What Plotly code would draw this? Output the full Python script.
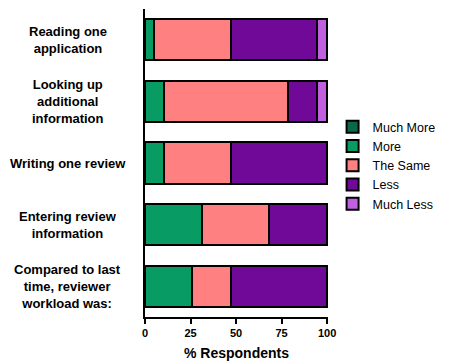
import plotly.graph_objects as go

categories = [
    "Reading one<br>application",
    "Looking up<br>additional<br>information",
    "Writing one review",
    "Entering review<br>information",
    "Compared to last<br>time, reviewer<br>workload was:",
]
series_names = ["Much More", "More", "The Same", "Less", "Much Less"]
much_more = [0, 0, 0, 0, 0]
more = [5, 10.5, 10.5, 31.5, 26]
the_same = [42, 68, 37, 36.5, 21]
less = [47.5, 16, 52.5, 32, 53]
much_less = [5.5, 5.5, 0, 0, 0]
x_ticks = [0, 25, 50, 75, 100]

series_values = [much_more, more, the_same, less, much_less]
colors = ["#0A6A48", "#089C64", "#FF8080", "#700898", "#C060E0"]

FONT = "Liberation Sans, Arial, sans-serif"

fig = go.Figure()
for name, vals, col in zip(series_names, series_values, colors):
    fig.add_trace(go.Bar(
        y=list(range(len(categories))), x=vals, name=name, orientation="h",
        marker=dict(color=col, line=dict(color="black", width=2)),
        width=0.67,
    ))

for i, cat in enumerate(categories):
    fig.add_annotation(
        x=-0.421, xref="paper", y=i, yref="y", text="<b>%s</b>" % cat,
        showarrow=False, xanchor="center", yanchor="middle", align="center",
        font=dict(family=FONT, size=13, color="black"),
    )

fig.update_layout(
    barmode="stack",
    width=447, height=356,
    margin=dict(l=137, r=127, t=1, b=47),
    plot_bgcolor="white", paper_bgcolor="white",
    font=dict(family=FONT, color="black"),
    legend=dict(
        x=1.025, y=0.665, xanchor="left", yanchor="top", traceorder="normal",
        font=dict(family=FONT, size=12.5, color="black"),
        itemwidth=30,
    ),
    xaxis=dict(
        range=[0, 100.5], tickvals=x_ticks, ticktext=["<b>%d</b>" % t for t in x_ticks],
        showline=True, linecolor="black", linewidth=2,
        ticks="outside", ticklen=5, tickwidth=2, tickcolor="black",
        showgrid=False, zeroline=False,
        tickfont=dict(family=FONT, size=11, color="black"),
        title=dict(text="<b>% Respondents</b>", font=dict(family=FONT, size=14, color="black"), standoff=10),
    ),
    yaxis=dict(
        range=[4.5, -0.5], showticklabels=False, showline=True, linecolor="black",
        linewidth=2, showgrid=False, zeroline=False, ticks="",
    ),
    bargap=0.33,
)

fig.write_html("out.html")
